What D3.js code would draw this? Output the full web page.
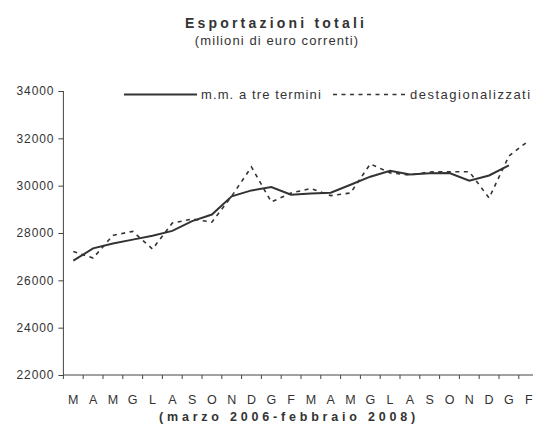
<!DOCTYPE html>
<html>
<head>
<script src="https://d3js.org/d3.v7.min.js"></script>
<style>
  body { margin: 0; background: #fff; }
  text { font-family: "Liberation Sans", Arial, sans-serif; fill: #333; }
</style>
</head>
<body>
<script>
var w = 533, h = 426

var months = ['M','A','M','G','L','A','S','O','N','D','G','F','M','A','M','G','L','A','S','O','N','D','G','F']
var yTicks = [22000, 24000, 26000, 28000, 30000, 32000, 34000]
// destagionalizzati (dashed)
var destag = [27220, 26940, 27900, 28070, 27320, 28420, 28590, 28460, 29560, 30790, 29310, 29690,
              29880, 29580, 29690, 30920, 30540, 30450, 30580, 30590, 30590, 29480, 31250, 31900]
// m.m. a tre termini (solid), no value for last month
var mm = [26830, 27350, 27560, 27720, 27880, 28090, 28500, 28780, 29550, 29800, 29940, 29620,
          29670, 29700, 30040, 30380, 30630, 30470, 30520, 30530, 30210, 30430, 30860, null]

var left = 63.4, bw = 19.8
var x = d3.scaleBand().domain(d3.range(months.length)).range([left, left + bw * months.length])
var y = d3.scaleLinear().domain([22000, 34000]).range([375, 91])

var svg = d3.select('body').append('svg').attr('width', w).attr('height', h)

svg.append('text').attr('x', 276).attr('y', 28).attr('text-anchor', 'middle')
  .style('font-size', '14px').style('font-weight', 'bold').style('letter-spacing', '3.2px')
  .text('Esportazioni totali')
svg.append('text').attr('x', 277).attr('y', 45).attr('text-anchor', 'middle')
  .style('font-size', '13px').style('letter-spacing', '1.1px')
  .text('(milioni di euro correnti)')

// y axis
var yAxis = svg.append('g').attr('transform', 'translate(' + left + ',0)')
  .call(d3.axisLeft(y).tickValues(yTicks).tickSize(5).tickPadding(4).tickFormat(d3.format('d')))
yAxis.selectAll('path,line').attr('stroke', '#444')
yAxis.select('.domain').attr('d', 'M0,' + y(34000) + 'V' + y(22000))
yAxis.selectAll('text').style('font-size', '12px').style('letter-spacing', '0.9px').attr('fill', '#333')

// x axis
var xg = svg.append('g').attr('transform', 'translate(0,' + y(22000) + ')')
xg.append('line').attr('x1', left).attr('x2', x.range()[1]).attr('stroke', '#444')
xg.selectAll('.tk').data(d3.range(months.length)).enter().append('line')
  .attr('x1', function(d){ return x(d) }).attr('x2', function(d){ return x(d) })
  .attr('y1', 0).attr('y2', 4).attr('stroke', '#444')
xg.selectAll('.lb').data(months).enter().append('text')
  .attr('x', function(d, i){ return x(i) + x.bandwidth() / 2 })
  .attr('y', 29).attr('text-anchor', 'middle').style('font-size', '12.5px')
  .text(function(d){ return d })
svg.append('text').attr('x', 289).attr('y', 421).attr('text-anchor', 'middle')
  .style('font-size', '12.5px').style('font-weight', 'bold').style('letter-spacing', '3.8px')
  .text('(marzo 2006-febbraio 2008)')

var line = d3.line()
  .defined(function(d){ return d != null })
  .x(function(d, i){ return x(i) + x.bandwidth() / 2 })
  .y(function(d){ return y(d) })

svg.append('path').attr('d', line(destag)).attr('fill', 'none')
  .attr('stroke', '#333').attr('stroke-width', 1.6).attr('stroke-dasharray', '4,4.5')
svg.append('path').attr('d', line(mm)).attr('fill', 'none')
  .attr('stroke', '#333').attr('stroke-width', 2)

// legend
var lg = svg.append('g')
lg.append('line').attr('x1', 124).attr('x2', 197).attr('y1', 94.5).attr('y2', 94.5)
  .attr('stroke', '#333').attr('stroke-width', 2)
lg.append('text').attr('x', 201).attr('y', 99).style('font-size', '13px').style('letter-spacing', '1.1px')
  .text('m.m. a tre termini')
lg.append('line').attr('x1', 333).attr('x2', 408).attr('y1', 94.5).attr('y2', 94.5)
  .attr('stroke', '#333').attr('stroke-width', 1.6).attr('stroke-dasharray', '4,4.5')
lg.append('text').attr('x', 410).attr('y', 99).style('font-size', '13px').style('letter-spacing', '1.5px')
  .text('destagionalizzati')
</script>
</body>
</html>
